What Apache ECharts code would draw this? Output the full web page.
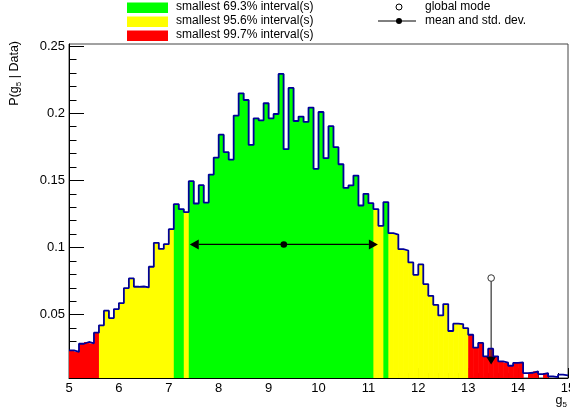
<!DOCTYPE html>
<html><head><meta charset="utf-8">
<script src="https://cdn.jsdelivr.net/npm/echarts@6.0.0/dist/echarts.min.js"></script>
<style>html,body{margin:0;padding:0;background:#fff}#c{width:570px;height:412px}</style>
</head><body><div id="c"></div>
<script>
// ---- data ----
const xMin = 5, xMax = 15, binWidth = 0.1;
const yMin = 0.0029, yMax = 0.2515;
const probability = [
  0.0235,0.0223,0.0284,0.0297,0.0287,0.0366,0.0421,0.0530,0.0475,0.0542,
  0.0587,0.0698,0.0770,0.0708,0.0710,0.0703,0.0857,0.1035,0.0990,0.1025,
  0.1137,0.1323,0.1286,0.1264,0.1494,0.1328,0.1464,0.1335,0.1543,0.1670,
  0.1840,0.1710,0.1655,0.1982,0.2148,0.2098,0.1764,0.1962,0.1947,0.2074,
  0.1962,0.1994,0.2292,0.1732,0.2188,0.1942,0.1975,0.1935,0.2042,0.1586,
  0.2009,0.1665,0.1903,0.1747,0.1620,0.1444,0.1462,0.1536,0.1313,0.1400,
  0.1330,0.1286,0.1162,0.1338,0.1107,0.1097,0.0988,0.0978,0.0889,0.0797,
  0.0874,0.0728,0.0641,0.0574,0.0495,0.0579,0.0379,0.0433,0.0430,0.0400,
  0.0351,0.0255,0.0290,0.0190,0.0247,0.0190,0.0153,0.0143,0.0120,0.0141,
  0.0145,0.0066,0.0068,0.0079,0.0058,0.0066,0.0041,0.0036,0.0054,0.0048
];
const greenIntervals  = [[7.1,7.3],[7.4,11.1],[11.3,11.4]];
const yellowIntervals = [[5.6,7.1],[7.3,7.4],[11.1,11.3],[11.4,13.0]];
const redIntervals    = [[5.0,5.6],[13.0,14.1],[14.2,14.4],[14.5,14.6]];
const meanValue = 9.305, stdDev = 1.885, meanMarkerY = 0.1023;
const globalMode = 13.46, modeCircleY = 0.0773, modeArrowTipY = 0.0129;
const xTickValues = [5,6,7,8,9,10,11,12,13,14,15];
const yTickValues = [0.05,0.1,0.15,0.2,0.25];
const yMinorTickValues = [0.01,0.02,0.03,0.04,0.06,0.07,0.08,0.09,0.11,0.12,0.13,0.14,0.16,0.17,0.18,0.19,0.21,0.22,0.23,0.24];
const legendLabels = ['smallest 69.3% interval(s)','smallest 95.6% interval(s)','smallest 99.7% interval(s)'];
const markerLabels = ['global mode','mean and std. dev.'];

// ---- build ----
const FONT = '"Liberation Sans", Arial, Helvetica, sans-serif';
const fillColors = [null, '#00ff00', '#ffff00', '#ff0000'];
const inAny = (x, list) => list.some(r => x > r[0] && x < r[1]);
const binData = probability.map((v, i) => {
  const lo = xMin + i * binWidth, hi = lo + binWidth, c = lo + binWidth / 2;
  const cls = inAny(c, greenIntervals) ? 1 : inAny(c, yellowIntervals) ? 2 : inAny(c, redIntervals) ? 3 : 0;
  return [lo, hi, v, cls];
});
const outlineData = probability.map((v, i) => [xMin + i * binWidth, v]);
outlineData.push([xMax, probability[probability.length - 1]]);

const chart = echarts.init(document.getElementById('c'), null, {renderer: 'canvas'});
chart.setOption({
  animation: false,
  backgroundColor: '#fff',
  textStyle: {fontFamily: FONT},
  grid: {left: 69, right: 2, top: 44, bottom: 34, containLabel: false, outerBoundsMode: 'none',
         show: true, borderColor: '#444', borderWidth: 1, backgroundColor: 'transparent'},
  xAxis: {
    type: 'value', min: xMin, max: xMax, interval: 1,
    axisLine: {show: true, onZero: false, lineStyle: {color: '#000', width: 1}},
    axisTick: {show: true, inside: true, length: 10, lineStyle: {color: '#000'}},
    minorTick: {show: true, splitNumber: 5, length: 5, lineStyle: {color: '#000'}},
    axisLabel: {color: '#000', fontSize: 13, fontFamily: FONT, margin: 4, customValues: xTickValues, hideOverlap: false},
    splitLine: {show: false}, minorSplitLine: {show: false}
  },
  yAxis: [{
    type: 'value', min: yMin, max: yMax,
    axisLine: {show: true, lineStyle: {color: '#000', width: 1}},
    axisTick: {show: true, inside: true, length: 15, customValues: yTickValues, lineStyle: {color: '#000'}},
    axisLabel: {color: '#000', fontSize: 13, fontFamily: FONT, margin: 4, customValues: yTickValues},
    splitLine: {show: false}
  }, {
    type: 'value', min: yMin, max: yMax, position: 'left',
    axisLine: {show: false},
    axisTick: {show: true, inside: true, length: 7.5, customValues: yMinorTickValues, lineStyle: {color: '#000'}},
    axisLabel: {show: false, customValues: yMinorTickValues},
    splitLine: {show: false}
  }],
  series: [{
    type: 'custom', name: 'intervals', clip: true,
    data: binData,
    encode: {x: [0, 1], y: 2},
    renderItem: (params, api) => {
      const cls = api.value(3);
      if (!cls) return null;
      const p0 = api.coord([api.value(0), api.value(2)]);
      const p1 = api.coord([api.value(1), yMin]);
      return {type: 'rect', shape: {x: p0[0], y: p0[1], width: p1[0] - p0[0] + 0.6, height: p1[1] - p0[1]},
              style: {fill: fillColors[cls]}};
    }
  }, {
    type: 'line', name: 'posterior', step: 'end', data: outlineData,
    symbol: 'none', clip: true,
    lineStyle: {color: '#000099', width: 1.8}
  }, {
    type: 'custom', name: 'mean', clip: false,
    data: [[meanValue, stdDev, meanMarkerY]],
    renderItem: (params, api) => {
      const m = api.value(0), s = api.value(1), y = api.value(2);
      const L = api.coord([m - s, y]), R = api.coord([m + s, y]), C = api.coord([m, y]);
      const hl = 9, hw = 5;
      return {type: 'group', children: [
        {type: 'line', shape: {x1: L[0] + hl, y1: L[1], x2: R[0] - hl, y2: R[1]}, style: {stroke: '#000', lineWidth: 1.2}},
        {type: 'polygon', shape: {points: [[L[0], L[1]], [L[0] + hl, L[1] - hw], [L[0] + hl, L[1] + hw]]}, style: {fill: '#000'}},
        {type: 'polygon', shape: {points: [[R[0], R[1]], [R[0] - hl, R[1] - hw], [R[0] - hl, R[1] + hw]]}, style: {fill: '#000'}},
        {type: 'circle', shape: {cx: C[0], cy: C[1], r: 3.3}, style: {fill: '#000'}}
      ]};
    }
  }, {
    type: 'custom', name: 'global mode', clip: false,
    data: [[globalMode, modeCircleY, modeArrowTipY]],
    renderItem: (params, api) => {
      const T = api.coord([api.value(0), api.value(1)]), B = api.coord([api.value(0), api.value(2)]);
      const hl = 8, hw = 5, r = 3.3;
      return {type: 'group', children: [
        {type: 'line', shape: {x1: T[0], y1: T[1] + r, x2: B[0], y2: B[1] - hl}, style: {stroke: '#333', lineWidth: 1.2}},
        {type: 'polygon', shape: {points: [[B[0], B[1]], [B[0] - hw, B[1] - hl], [B[0] + hw, B[1] - hl]]}, style: {fill: '#000'}},
        {type: 'circle', shape: {cx: T[0], cy: T[1], r: r}, style: {fill: 'transparent', stroke: '#333', lineWidth: 1}}
      ]};
    }
  }],
  graphic: [
    {type: 'rect', shape: {x: 127, y: 2.5, width: 41, height: 10.5}, style: {fill: '#00ff00'}},
    {type: 'rect', shape: {x: 127, y: 16.5, width: 41, height: 10.5}, style: {fill: '#ffff00'}},
    {type: 'rect', shape: {x: 127, y: 30.5, width: 41, height: 10.5}, style: {fill: '#ff0000'}},
    {type: 'text', x: 176, y: 7, style: {text: legendLabels[0], fontSize: 12, fontFamily: FONT, fill: '#000', verticalAlign: 'middle'}},
    {type: 'text', x: 176, y: 21, style: {text: legendLabels[1], fontSize: 12, fontFamily: FONT, fill: '#000', verticalAlign: 'middle'}},
    {type: 'text', x: 176, y: 35, style: {text: legendLabels[2], fontSize: 12, fontFamily: FONT, fill: '#000', verticalAlign: 'middle'}},
    {type: 'circle', shape: {cx: 399, cy: 7, r: 3}, style: {fill: 'transparent', stroke: '#000', lineWidth: 1}},
    {type: 'line', shape: {x1: 378, y1: 21, x2: 416, y2: 21}, style: {stroke: '#000', lineWidth: 1}},
    {type: 'circle', shape: {cx: 399, cy: 21, r: 3}, style: {fill: '#000'}},
    {type: 'text', x: 425, y: 7, style: {text: markerLabels[0], fontSize: 12, fontFamily: FONT, fill: '#000', verticalAlign: 'middle'}},
    {type: 'text', x: 425, y: 21, style: {text: markerLabels[1], fontSize: 12, fontFamily: FONT, fill: '#000', verticalAlign: 'middle'}},
    {type: 'text', x: 15, y: 41, rotation: Math.PI / 2,
     style: {text: 'P(g{s|5} | Data)', fontSize: 12.5, fontFamily: FONT, fill: '#000', align: 'right', verticalAlign: 'middle',
             rich: {s: {fontSize: 8, fontFamily: FONT, fill: '#000', padding: [7, 0, 0, 0]}}}},
    {type: 'text', x: 567, y: 401,
     style: {text: 'g{s|5}', fontSize: 12.5, fontFamily: FONT, fill: '#000', align: 'right', verticalAlign: 'middle',
             rich: {s: {fontSize: 8, fontFamily: FONT, fill: '#000', padding: [7, 0, 0, 0]}}}}
  ]
});
</script></body></html>
